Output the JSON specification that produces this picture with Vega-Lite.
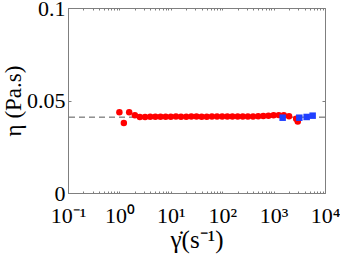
{
  "$schema": "https://vega.github.io/schema/vega-lite/v6.json",
  "autosize": "none",
  "padding": {"left": 68, "top": 8, "right": 15, "bottom": 66},
  "width": 257,
  "height": 185,
  "background": "white",
  "config": {
    "view": {"stroke": "#7f7f7f", "strokeWidth": 1},
    "font": "Liberation Serif"
  },
  "datasets": {
    "pts": [
      {"rate": 1.0, "eta": 0.0436, "series": "a"},
      {"rate": 1.22, "eta": 0.0378, "series": "a"},
      {"rate": 1.55, "eta": 0.0436, "series": "a"},
      {"rate": 2.0, "eta": 0.0420, "series": "a"},
      {"rate": 2.5, "eta": 0.0411, "series": "a"},
      {"rate": 3.16, "eta": 0.0411, "series": "a"},
      {"rate": 3.98, "eta": 0.0412, "series": "a"},
      {"rate": 5.01, "eta": 0.0412, "series": "a"},
      {"rate": 6.31, "eta": 0.0412, "series": "a"},
      {"rate": 7.94, "eta": 0.0412, "series": "a"},
      {"rate": 10, "eta": 0.0412, "series": "a"},
      {"rate": 12.6, "eta": 0.0413, "series": "a"},
      {"rate": 15.8, "eta": 0.0412, "series": "a"},
      {"rate": 20, "eta": 0.0412, "series": "a"},
      {"rate": 25.1, "eta": 0.0413, "series": "a"},
      {"rate": 31.6, "eta": 0.0413, "series": "a"},
      {"rate": 39.8, "eta": 0.0412, "series": "a"},
      {"rate": 50.1, "eta": 0.0412, "series": "a"},
      {"rate": 63.1, "eta": 0.0413, "series": "a"},
      {"rate": 79.4, "eta": 0.0413, "series": "a"},
      {"rate": 100, "eta": 0.0413, "series": "a"},
      {"rate": 126, "eta": 0.0413, "series": "a"},
      {"rate": 158, "eta": 0.0413, "series": "a"},
      {"rate": 200, "eta": 0.0413, "series": "a"},
      {"rate": 251, "eta": 0.0413, "series": "a"},
      {"rate": 316, "eta": 0.0414, "series": "a"},
      {"rate": 398, "eta": 0.0414, "series": "a"},
      {"rate": 501, "eta": 0.0415, "series": "a"},
      {"rate": 631, "eta": 0.0416, "series": "a"},
      {"rate": 794, "eta": 0.0418, "series": "a"},
      {"rate": 1000, "eta": 0.0420, "series": "a"},
      {"rate": 1260, "eta": 0.0421, "series": "a"},
      {"rate": 1580, "eta": 0.0420, "series": "a"},
      {"rate": 2000, "eta": 0.0415, "series": "a"},
      {"rate": 2750, "eta": 0.0402, "series": "a"},
      {"rate": 2950, "eta": 0.0386, "series": "a"},
      {"rate": 1500, "eta": 0.0407, "series": "b"},
      {"rate": 3160, "eta": 0.0407, "series": "b"},
      {"rate": 4400, "eta": 0.0411, "series": "b"},
      {"rate": 5750, "eta": 0.0418, "series": "b"}
    ],
    "ref": [{"eta": 0.041}]
  },
  "resolve": {"axis": {"x": "independent", "y": "independent"}},
  "layer": [
    {
      "data": {"name": "ref"},
      "mark": {"type": "rule", "color": "#555555", "strokeDash": [6, 4], "strokeWidth": 1},
      "encoding": {
        "y": {"field": "eta", "type": "quantitative", "scale": {"domain": [0, 0.1]}, "axis": null}
      }
    },
    {
      "data": {"name": "pts"},
      "mark": {"type": "point", "opacity": 0},
      "encoding": {
        "x": {
          "field": "rate", "type": "quantitative",
          "scale": {"type": "log", "domain": [0.1, 10000], "nice": false},
          "axis": {
            "orient": "top", "title": null, "labels": false, "domain": false, "grid": false,
            "values": [0.1,0.2,0.3,0.4,0.5,0.6,0.7,0.8,0.9,1,2,3,4,5,6,7,8,9,10,20,30,40,50,60,70,80,90,100,200,300,400,500,600,700,800,900,1000,2000,3000,4000,5000,6000,7000,8000,9000,10000],
            "tickSize": -2, "tickColor": "#7f7f7f"
          }
        },
        "y": {
          "field": "eta", "type": "quantitative",
          "scale": {"domain": [0, 0.1]},
          "axis": {
            "orient": "right", "title": null, "labels": false, "domain": false, "grid": false,
            "values": [0, 0.05, 0.1], "tickSize": -3, "tickColor": "#7f7f7f"
          }
        }
      }
    },
    {
      "data": {"name": "pts"},
      "mark": {"type": "point", "filled": true, "opacity": 1, "size": 42},
      "encoding": {
        "x": {
          "field": "rate", "type": "quantitative",
          "scale": {"type": "log", "domain": [0.1, 10000], "nice": false},
          "axis": {
            "orient": "bottom",
            "title": "γ̇(s⁻¹)",
            "titleFont": "Liberation Serif", "titleFontSize": 25, "titleFontWeight": "normal", "titleColor": "black",
            "titlePadding": 1,
            "values": [0.1,0.2,0.3,0.4,0.5,0.6,0.7,0.8,0.9,1,2,3,4,5,6,7,8,9,10,20,30,40,50,60,70,80,90,100,200,300,400,500,600,700,800,900,1000,2000,3000,4000,5000,6000,7000,8000,9000,10000],
            "labelExpr": "datum.value == 0.1 ? '10⁻¹' : datum.value == 1 ? '10⁰' : datum.value == 10 ? '10¹' : datum.value == 100 ? '10²' : datum.value == 1000 ? '10³' : datum.value == 10000 ? '10⁴' : ''",
            "labelFont": "Liberation Serif", "labelFontSize": 22, "labelColor": "black",
            "labelPadding": 14, "labelOverlap": false, "labelFlush": false,
            "tickSize": -2, "tickColor": "#7f7f7f", "domainColor": "#7f7f7f", "grid": false
          }
        },
        "y": {
          "field": "eta", "type": "quantitative",
          "scale": {"domain": [0, 0.1]},
          "axis": {
            "orient": "left",
            "title": "η (Pa.s)",
            "titleFont": "Liberation Serif", "titleFontSize": 23, "titleFontWeight": "normal", "titleColor": "black",
            "titlePadding": 1,
            "values": [0, 0.05, 0.1],
            "labelExpr": "datum.value == 0 ? '0' : datum.value == 0.05 ? '0.05' : '0.1'",
            "labelFont": "Liberation Serif", "labelFontSize": 22, "labelColor": "black",
            "labelPadding": 6, "labelFlush": false,
            "tickSize": -3, "tickColor": "#7f7f7f", "domainColor": "#7f7f7f", "grid": false
          }
        },
        "color": {
          "field": "series", "type": "nominal",
          "scale": {"domain": ["a", "b"], "range": ["#ff0000", "#1f3fff"]},
          "legend": null
        },
        "shape": {
          "field": "series", "type": "nominal",
          "scale": {"domain": ["a", "b"], "range": ["circle", "square"]},
          "legend": null
        }
      }
    }
  ]
}
